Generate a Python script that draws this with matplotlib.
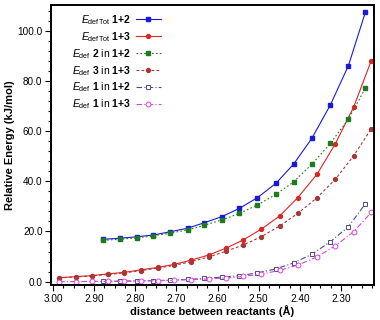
import numpy as np
import matplotlib
matplotlib.use("Agg")
import matplotlib.pyplot as plt
from matplotlib.ticker import AutoMinorLocator, FormatStrFormatter, MultipleLocator

plt.rcParams['font.family'] = ['Liberation Sans', 'DejaVu Sans']
plt.rcParams['mathtext.fontset'] = 'custom'
plt.rcParams['mathtext.rm'] = 'Liberation Sans'
plt.rcParams['mathtext.it'] = 'Liberation Sans:italic'
plt.rcParams['mathtext.bf'] = 'Liberation Sans:bold'

# distances for the 1+2 series (16 points) and the 1+3 series (19 points)
d12 = [2.878, 2.837, 2.796, 2.756, 2.715, 2.673, 2.632, 2.590, 2.547,
       2.503, 2.458, 2.415, 2.371, 2.326, 2.282, 2.241]
d13 = [2.985, 2.945, 2.906, 2.867, 2.827, 2.787, 2.745, 2.705, 2.664,
       2.622, 2.580, 2.538, 2.494, 2.449, 2.405, 2.358, 2.314, 2.269, 2.227]

tot12 = [16.9, 17.3, 17.9, 18.6, 19.9, 21.3, 23.5, 25.9, 29.2,
         33.5, 39.2, 46.9, 57.1, 70.4, 86.1, 107.3]
tot13 = [1.6, 2.0, 2.4, 3.1, 3.7, 4.7, 5.7, 6.9, 8.6, 10.6, 13.3,
         16.6, 20.9, 26.2, 33.5, 42.9, 54.9, 69.7, 87.9]
def2_12 = [16.5, 16.9, 17.5, 18.2, 19.4, 20.6, 22.5, 24.6, 27.2,
           30.6, 34.8, 39.8, 46.8, 55.1, 64.8, 77.0]
def3_13 = [1.5, 1.9, 2.3, 2.9, 3.5, 4.4, 5.4, 6.5, 8.0, 9.8, 12.1,
           14.6, 17.9, 22.2, 27.2, 33.5, 40.8, 50.2, 60.8]
def1_12 = [0.1, 0.2, 0.3, 0.4, 0.6, 0.9, 1.3, 1.8, 2.4,
           3.5, 5.1, 7.5, 10.9, 15.9, 21.9, 31.0]
def1_13 = [0.0, 0.05, 0.1, 0.15, 0.2, 0.3, 0.4, 0.6, 0.8, 1.1, 1.5,
           2.1, 3.0, 4.5, 6.6, 9.9, 14.3, 19.9, 27.6]

labels = [r'$E_{\mathrm{defTot}}$ $\mathbf{1{+}2}$',
          r'$E_{\mathrm{defTot}}$ $\mathbf{1{+}3}$',
          r'$E_{\mathrm{def}}$ $\mathbf{2}$ in $\mathbf{1{+}2}$',
          r'$E_{\mathrm{def}}$ $\mathbf{3}$ in $\mathbf{1{+}3}$',
          r'$E_{\mathrm{def}}$ $\mathbf{1}$ in $\mathbf{1{+}2}$',
          r'$E_{\mathrm{def}}$ $\mathbf{1}$ in $\mathbf{1{+}3}$']

fig = plt.figure(figsize=(3.8, 3.2), dpi=100)
ax = fig.add_axes([0.134, 0.108, 0.849, 0.876])

lw = 0.8
ax.plot(d12, tot12, '-', color='#1a1ad6', lw=lw, marker='s', ms=3, label=labels[0])
ax.plot(d13, tot13, '-', color='#e02424', lw=lw, marker='o', ms=2.8, label=labels[1])
ax.plot(d12, def2_12, color='#1f7a1f', lw=lw, ls=(0, (1.5, 2)), marker='s', ms=3,
        label=labels[2])
ax.plot(d13, def3_13, color='#a83838', lw=lw, ls=(0, (2.5, 2)), marker='o', ms=2.8,
        label=labels[3])
ax.plot(d12, def1_12, color='#4a4a8a', lw=lw, ls=(0, (5, 2, 1, 2)), marker='s', ms=3.5,
        mfc='white', mew=0.7, label=labels[4])
ax.plot(d13, def1_13, color='#e040e0', lw=lw, ls=(0, (5, 2, 1, 2)), marker='o', ms=3.5,
        mfc='white', mew=0.7, label=labels[5])

ax.set_xlim(3.005, 2.221)
ax.set_ylim(-1.5, 110.2)
ax.xaxis.set_major_locator(MultipleLocator(0.1))
ax.xaxis.set_minor_locator(AutoMinorLocator(4))
ax.yaxis.set_major_locator(MultipleLocator(20))
ax.yaxis.set_minor_locator(AutoMinorLocator(5))
ax.xaxis.set_major_formatter(FormatStrFormatter('%.2f'))
ax.yaxis.set_major_formatter(FormatStrFormatter('%.1f'))
ax.tick_params(which='both', direction='out', top=False, right=False,
               labelsize=7.2, width=0.8, pad=2)
ax.tick_params(which='major', length=4)
ax.tick_params(which='minor', length=2)
for s in ax.spines.values():
    s.set_linewidth(1.4)

ax.set_xlabel('distance between reactants (Å)', fontsize=8, fontweight='bold', labelpad=1)
ax.set_ylabel('Relative Energy (kJ/mol)', fontsize=8, fontweight='bold', labelpad=2)

leg = ax.legend(loc='upper left', frameon=False, markerfirst=False, fontsize=7.5,
                labelspacing=0.3, handlelength=2.4, handletextpad=0.5,
                bbox_to_anchor=(0.04, 1.0), borderaxespad=0.35)
for t in leg.get_texts():
    t.set_ha('right')

fig.savefig('out.png', dpi=100)
